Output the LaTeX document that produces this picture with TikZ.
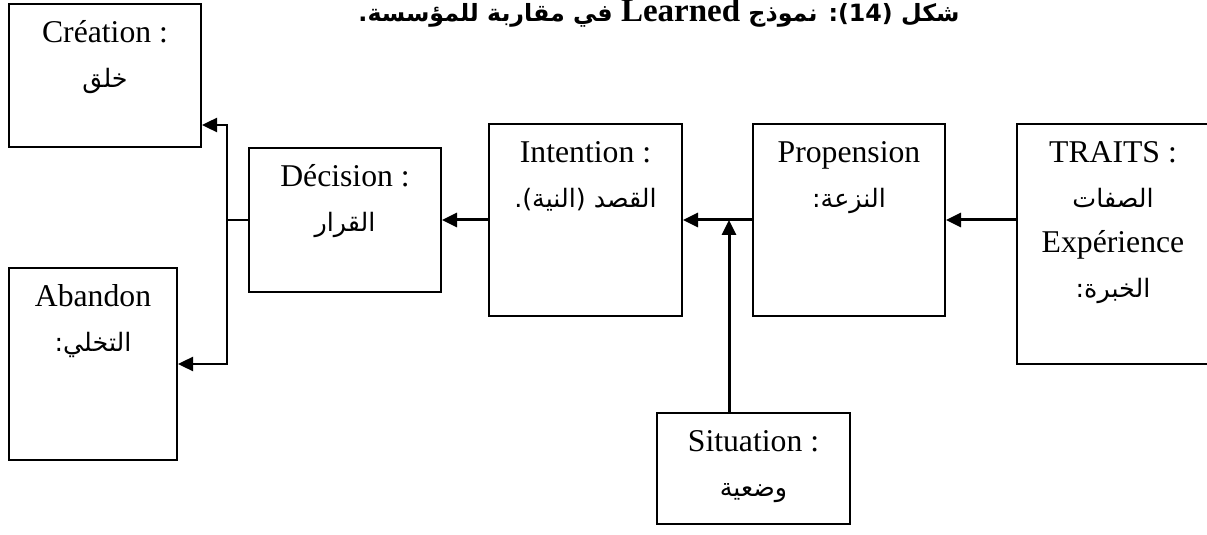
\documentclass[tikz,border=0pt]{standalone}
\usepackage{fontspec}
\setmainfont{Liberation Serif}
\newfontfamily\arabicfont[Script=Arabic,Scale=0.8]{DejaVu Sans}
\newfontfamily\arabictitle[Script=Arabic,Scale=0.72]{DejaVu Sans}
\TeXXeTstate=1
\usetikzlibrary{arrows.meta}
\newcommand\arabtext[1]{{\arabicfont\beginR #1\endR}}

\begin{document}
\begin{tikzpicture}[x=0.5pt,y=-0.5pt,
  box/.style={draw, rectangle, line width=1pt, inner sep=0pt},
  lbl/.style={align=center, inner sep=0pt, anchor=north,
    font=\fontsize{15.85}{22.5}\selectfont},
  tip/.style={-{Triangle[length=7.5pt,width=7pt]}},
  arr/.style={tip, line width=1.5pt},
  fork/.style={tip, line width=1.2pt},
  link/.style={line width=0.8pt}]
\useasboundingbox (0,0) rectangle (1207,535);
\clip (0,0) rectangle (1207,535);

% title
\node[anchor=base, inner sep=0pt, font=\fontsize{16.5}{18}\selectfont\bfseries] (title) at (659,22)
  {\beginR\arabictitle شكل (14): نموذج \beginL{\rmfamily Learned}\endL{} في مقاربة للمؤسسة.\endR};

% boxes
\node[box, minimum width=96pt, minimum height=71.5pt] (creation) at (105,75.5) {};
\node[box, minimum width=84pt, minimum height=96pt] (abandon) at (93,364) {};
\node[box, minimum width=96pt, minimum height=72pt] (decision) at (345,220) {};
\node[box, minimum width=96.5pt, minimum height=96pt] (intention) at (585.5,220) {};
\node[box, minimum width=96pt, minimum height=96pt] (propension) at (849,220) {};
\node[box, minimum width=96pt, minimum height=120pt] (traits) at (1113,244) {};
\node[box, minimum width=96.5pt, minimum height=55.5pt] (situation) at (753.5,468.5) {};

% box texts
\node[lbl] (creation-t) at ([yshift=-3.75pt]creation.north) {\strut Création :\\\strut\arabtext{خلق}};
\node[lbl] (abandon-t) at ([yshift=-3.75pt]abandon.north) {\strut Abandon\\\strut\arabtext{التخلي:}};
\node[lbl] (decision-t) at ([yshift=-3.75pt]decision.north) {\strut Décision :\\\strut\arabtext{القرار}};
\node[lbl] (intention-t) at ([yshift=-3.75pt]intention.north) {\strut Intention :\\\strut\arabtext{القصد (النية).}};
\node[lbl] (propension-t) at ([yshift=-3.75pt]propension.north) {\strut Propension\\\strut\arabtext{النزعة:}};
\node[lbl] (traits-t) at ([yshift=-3.75pt]traits.north) {\strut TRAITS :\\\strut\arabtext{الصفات}\\\strut Expérience\\\strut\arabtext{الخبرة:}};
\node[lbl] (situation-t) at ([yshift=-3.75pt]situation.north) {\strut Situation :\\\strut\arabtext{وضعية}};

% connectors
\coordinate (branch) at (227,220);
\coordinate (upper) at (227,125);
\coordinate (join) at (729,220);
\draw[arr] (traits.west |- propension.east) -- (propension.east);
\draw[arr] (propension.west) -- (intention.east);
\draw[arr] (situation.north -| join) -- (join);
\draw[arr] (intention.west) -- (decision.east);
\draw[link] (decision.west) -- (branch);
\draw[fork] (branch) -- (upper) -- (creation.east |- upper);
\draw[fork] (branch) |- (abandon.east);
\end{tikzpicture}
\end{document}
